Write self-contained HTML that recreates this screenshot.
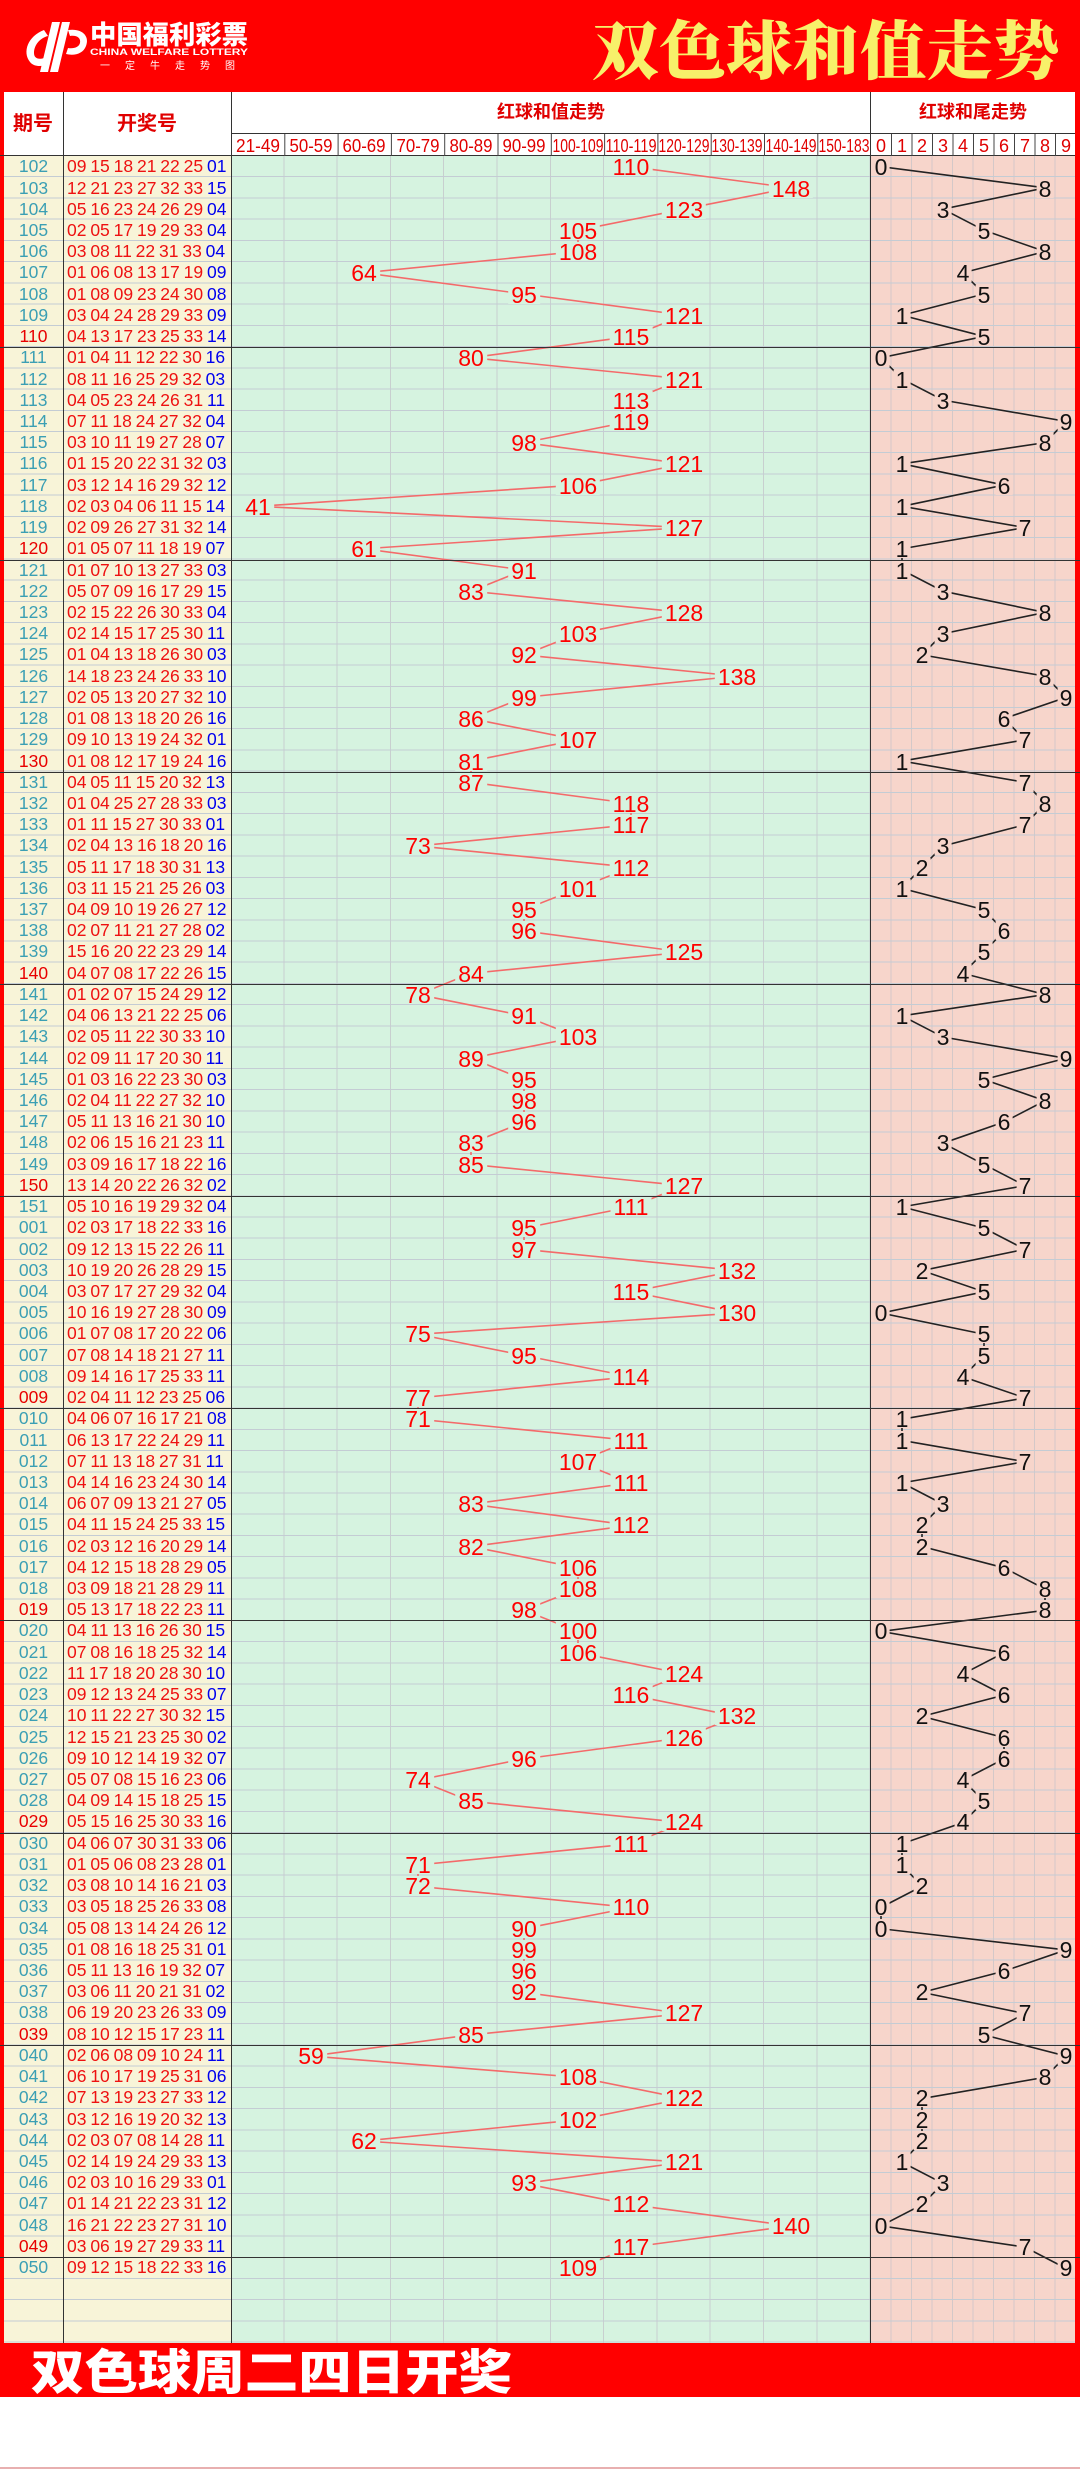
<!DOCTYPE html>
<html><head><meta charset="utf-8">
<style>
*{margin:0;padding:0;box-sizing:border-box}
body{width:1080px;height:2470px;background:#fff;position:relative;overflow:hidden;font-family:"Liberation Sans","Noto Sans CJK SC",sans-serif}
#hdr{position:absolute;left:0;top:0}
#body{position:absolute;left:0;top:156.4px;width:1080px;height:2186.7px}
.col{position:absolute;top:0;bottom:0}
#hl{position:absolute;left:4px;right:5px;top:0;bottom:0;background-image:repeating-linear-gradient(to bottom,transparent 0 20.23px,#c4ccd4 20.23px 21.23px)}
.vl{position:absolute;top:0;bottom:0;width:1px;background:#333}
#lines{position:absolute;left:0;top:0}
#rows{position:absolute;left:0;top:0;width:1080px}
.r{position:relative;height:21.23px;line-height:21.23px;white-space:nowrap}
.g{box-shadow:inset 0 1px 0 #333}
.a{position:absolute;left:4px;width:59px;text-align:center;font-size:17.5px;color:#3b9fb4}
.k .a{color:#e80000}
.n{position:absolute;left:67px;font-size:17.5px;color:#ee1111;word-spacing:-1px}
.b{color:#0000ee}
.s{position:absolute;transform:translateX(-50%);top:1px;height:19px;line-height:20px;background:#d6f3e0;padding:0 3px;font-size:23px;color:#f00}
.t{position:absolute;transform:translateX(-50%);top:1px;height:19px;line-height:20px;background:#f7d5cb;padding:0 2px;font-size:23px;color:#111}
</style></head><body>
<svg id="hdr" width="1080" height="157" viewBox="0 0 1080 157">
<rect x="0" y="0" width="1080" height="92" fill="#ff0000"/>
<rect x="0" y="92" width="1080" height="65" fill="#ffffff"/>
<rect x="0" y="92" width="4" height="65" fill="#ff0000"/>
<rect x="1075" y="92" width="5" height="65" fill="#ff0000"/>
<g fill="#fff">
<path d="M44 30 C28 36 22 52 30 62 C34 67 42 67 48 64 L44 58 C38 60 34 58 34 53 C34 45 40 38 48 36 Z"/>
<path d="M52 22 L60 22 L48 72 L40 72 Z"/>
<path d="M62 22 L70 22 L58 72 L50 72 Z"/>
<path d="M68 30 C82 28 90 36 86 46 C83 54 74 56 66 54 L68 48 C74 49 79 47 80 43 C81 38 77 35 70 36 Z"/>
</g>
<text x="90" y="44" font-family="Noto Sans CJK SC,sans-serif" font-weight="900" font-size="26" fill="#fff" textLength="158" lengthAdjust="spacingAndGlyphs">中国福利彩票</text>
<text x="90" y="55" font-family="Liberation Sans,sans-serif" font-weight="bold" font-size="9.5" fill="#fff" textLength="158" lengthAdjust="spacingAndGlyphs">CHINA WELFARE LOTTERY</text>
<text x="100" y="69" font-family="Noto Sans CJK SC,sans-serif" font-size="10" fill="#fff" textLength="135" lengthAdjust="spacing">一定牛走势图</text>
<text x="592" y="74" font-family="Noto Serif CJK SC,serif" font-weight="900" font-size="64" fill="#f7f06a" textLength="468" lengthAdjust="spacingAndGlyphs">双色球和值走势</text>
<g stroke="#333" stroke-width="1">
<line x1="63.5" y1="92" x2="63.5" y2="157"/>
<line x1="231.5" y1="92" x2="231.5" y2="157"/>
<line x1="870.5" y1="92" x2="870.5" y2="157"/>
<line x1="231" y1="133.5" x2="1075" y2="133.5"/>
<line x1="0" y1="155.5" x2="1075" y2="155.5"/>
</g>
<g stroke="#444" stroke-width="1">
<line x1="284.8" y1="134" x2="284.8" y2="156"/><line x1="338.1" y1="134" x2="338.1" y2="156"/>
<line x1="391.4" y1="134" x2="391.4" y2="156"/><line x1="444.7" y1="134" x2="444.7" y2="156"/>
<line x1="498" y1="134" x2="498" y2="156"/><line x1="551.3" y1="134" x2="551.3" y2="156"/>
<line x1="604.6" y1="134" x2="604.6" y2="156"/><line x1="657.9" y1="134" x2="657.9" y2="156"/>
<line x1="711.2" y1="134" x2="711.2" y2="156"/><line x1="764.5" y1="134" x2="764.5" y2="156"/>
<line x1="817.8" y1="134" x2="817.8" y2="156"/>
<line x1="891.5" y1="134" x2="891.5" y2="156"/><line x1="912" y1="134" x2="912" y2="156"/>
<line x1="932.5" y1="134" x2="932.5" y2="156"/><line x1="953" y1="134" x2="953" y2="156"/>
<line x1="973.5" y1="134" x2="973.5" y2="156"/><line x1="994" y1="134" x2="994" y2="156"/>
<line x1="1014.5" y1="134" x2="1014.5" y2="156"/><line x1="1035" y1="134" x2="1035" y2="156"/>
<line x1="1055.5" y1="134" x2="1055.5" y2="156"/>
</g>
<g font-family="Noto Sans CJK SC,sans-serif" font-weight="bold" fill="#e00000" text-anchor="middle">
<text x="33" y="130" font-size="20">期号</text>
<text x="147" y="130" font-size="20">开奖号</text>
<text x="551" y="118" font-size="18">红球和值走势</text>
<text x="973" y="118" font-size="18">红球和尾走势</text>
</g>
<g font-family="Liberation Sans,sans-serif" font-size="18" fill="#e00000" text-anchor="middle">
<text x="258" y="152" textLength="44" lengthAdjust="spacingAndGlyphs">21-49</text>
<text x="311" y="152" textLength="43" lengthAdjust="spacingAndGlyphs">50-59</text>
<text x="364" y="152" textLength="43" lengthAdjust="spacingAndGlyphs">60-69</text>
<text x="418" y="152" textLength="43" lengthAdjust="spacingAndGlyphs">70-79</text>
<text x="471" y="152" textLength="43" lengthAdjust="spacingAndGlyphs">80-89</text>
<text x="524" y="152" textLength="43" lengthAdjust="spacingAndGlyphs">90-99</text>
<text x="578" y="152" textLength="51" lengthAdjust="spacingAndGlyphs">100-109</text>
<text x="631" y="152" textLength="51" lengthAdjust="spacingAndGlyphs">110-119</text>
<text x="684" y="152" textLength="51" lengthAdjust="spacingAndGlyphs">120-129</text>
<text x="737" y="152" textLength="51" lengthAdjust="spacingAndGlyphs">130-139</text>
<text x="791" y="152" textLength="51" lengthAdjust="spacingAndGlyphs">140-149</text>
<text x="844" y="152" textLength="51" lengthAdjust="spacingAndGlyphs">150-183</text>
<text x="881" y="152">0</text><text x="902" y="152">1</text><text x="922" y="152">2</text><text x="943" y="152">3</text><text x="963" y="152">4</text><text x="984" y="152">5</text><text x="1004" y="152">6</text><text x="1025" y="152">7</text><text x="1045" y="152">8</text><text x="1066" y="152">9</text>
</g>
</svg>

<div id="body">
<div class="col" style="left:0;width:4px;background:#ff0000"></div>
<div class="col" style="left:4px;width:227px;background:#f8f4d8"></div>
<div class="col" style="left:231px;width:640px;background-color:#d6f3e0;background-image:repeating-linear-gradient(to right,transparent 0 52.3px,#c8cfcf 52.3px 53.3px)"></div>
<div class="col" style="left:871px;width:204px;background-color:#f7d5cb;background-image:repeating-linear-gradient(to right,transparent 0 19.5px,#d4c8c8 19.5px 20.5px)"></div>
<div class="col" style="left:1075px;width:5px;background:#ff0000"></div>
<div id="hl"></div>
<div class="vl" style="left:63px"></div>
<div class="vl" style="left:231px"></div>
<div class="vl" style="left:870px"></div>
<svg id="lines" width="1080" height="2123" viewBox="0 0 1080 100" preserveAspectRatio="none">
<polyline fill="none" stroke="#f46a6a" stroke-width="1.6" vector-effect="non-scaling-stroke" points="631,0.5 791,1.5 684,2.5 578,3.5 578,4.5 364,5.5 524,6.5 684,7.5 631,8.5 471,9.5 684,10.5 631,11.5 631,12.5 524,13.5 684,14.5 578,15.5 258,16.5 684,17.5 364,18.5 524,19.5 471,20.5 684,21.5 578,22.5 524,23.5 737,24.5 524,25.5 471,26.5 578,27.5 471,28.5 471,29.5 631,30.5 631,31.5 418,32.5 631,33.5 578,34.5 524,35.5 524,36.5 684,37.5 471,38.5 418,39.5 524,40.5 578,41.5 471,42.5 524,43.5 524,44.5 524,45.5 471,46.5 471,47.5 684,48.5 631,49.5 524,50.5 524,51.5 737,52.5 631,53.5 737,54.5 418,55.5 524,56.5 631,57.5 418,58.5 418,59.5 631,60.5 578,61.5 631,62.5 471,63.5 631,64.5 471,65.5 578,66.5 578,67.5 524,68.5 578,69.5 578,70.5 684,71.5 631,72.5 737,73.5 684,74.5 524,75.5 418,76.5 471,77.5 684,78.5 631,79.5 418,80.5 418,81.5 631,82.5 524,83.5 524,84.5 524,85.5 524,86.5 684,87.5 471,88.5 311,89.5 578,90.5 684,91.5 578,92.5 364,93.5 684,94.5 524,95.5 631,96.5 791,97.5 631,98.5 578,99.5"/>
<polyline fill="none" stroke="#222" stroke-width="1.6" vector-effect="non-scaling-stroke" points="881,0.5 1045,1.5 943,2.5 984,3.5 1045,4.5 963,5.5 984,6.5 902,7.5 984,8.5 881,9.5 902,10.5 943,11.5 1066,12.5 1045,13.5 902,14.5 1004,15.5 902,16.5 1025,17.5 902,18.5 902,19.5 943,20.5 1045,21.5 943,22.5 922,23.5 1045,24.5 1066,25.5 1004,26.5 1025,27.5 902,28.5 1025,29.5 1045,30.5 1025,31.5 943,32.5 922,33.5 902,34.5 984,35.5 1004,36.5 984,37.5 963,38.5 1045,39.5 902,40.5 943,41.5 1066,42.5 984,43.5 1045,44.5 1004,45.5 943,46.5 984,47.5 1025,48.5 902,49.5 984,50.5 1025,51.5 922,52.5 984,53.5 881,54.5 984,55.5 984,56.5 963,57.5 1025,58.5 902,59.5 902,60.5 1025,61.5 902,62.5 943,63.5 922,64.5 922,65.5 1004,66.5 1045,67.5 1045,68.5 881,69.5 1004,70.5 963,71.5 1004,72.5 922,73.5 1004,74.5 1004,75.5 963,76.5 984,77.5 963,78.5 902,79.5 902,80.5 922,81.5 881,82.5 881,83.5 1066,84.5 1004,85.5 922,86.5 1025,87.5 984,88.5 1066,89.5 1045,90.5 922,91.5 922,92.5 922,93.5 902,94.5 943,95.5 922,96.5 881,97.5 1025,98.5 1066,99.5"/>
</svg>
<div id="rows">
<div class="r"><span class="a">102</span><span class="n">09 15 18 21 22 25 <span class="b">01</span></span><span class="s" style="left:631px">110</span><span class="t" style="left:881px">0</span></div>
<div class="r"><span class="a">103</span><span class="n">12 21 23 27 32 33 <span class="b">15</span></span><span class="s" style="left:791px">148</span><span class="t" style="left:1045px">8</span></div>
<div class="r"><span class="a">104</span><span class="n">05 16 23 24 26 29 <span class="b">04</span></span><span class="s" style="left:684px">123</span><span class="t" style="left:943px">3</span></div>
<div class="r"><span class="a">105</span><span class="n">02 05 17 19 29 33 <span class="b">04</span></span><span class="s" style="left:578px">105</span><span class="t" style="left:984px">5</span></div>
<div class="r"><span class="a">106</span><span class="n">03 08 11 22 31 33 <span class="b">04</span></span><span class="s" style="left:578px">108</span><span class="t" style="left:1045px">8</span></div>
<div class="r"><span class="a">107</span><span class="n">01 06 08 13 17 19 <span class="b">09</span></span><span class="s" style="left:364px">64</span><span class="t" style="left:963px">4</span></div>
<div class="r"><span class="a">108</span><span class="n">01 08 09 23 24 30 <span class="b">08</span></span><span class="s" style="left:524px">95</span><span class="t" style="left:984px">5</span></div>
<div class="r"><span class="a">109</span><span class="n">03 04 24 28 29 33 <span class="b">09</span></span><span class="s" style="left:684px">121</span><span class="t" style="left:902px">1</span></div>
<div class="r k"><span class="a">110</span><span class="n">04 13 17 23 25 33 <span class="b">14</span></span><span class="s" style="left:631px">115</span><span class="t" style="left:984px">5</span></div>
<div class="r g"><span class="a">111</span><span class="n">01 04 11 12 22 30 <span class="b">16</span></span><span class="s" style="left:471px">80</span><span class="t" style="left:881px">0</span></div>
<div class="r"><span class="a">112</span><span class="n">08 11 16 25 29 32 <span class="b">03</span></span><span class="s" style="left:684px">121</span><span class="t" style="left:902px">1</span></div>
<div class="r"><span class="a">113</span><span class="n">04 05 23 24 26 31 <span class="b">11</span></span><span class="s" style="left:631px">113</span><span class="t" style="left:943px">3</span></div>
<div class="r"><span class="a">114</span><span class="n">07 11 18 24 27 32 <span class="b">04</span></span><span class="s" style="left:631px">119</span><span class="t" style="left:1066px">9</span></div>
<div class="r"><span class="a">115</span><span class="n">03 10 11 19 27 28 <span class="b">07</span></span><span class="s" style="left:524px">98</span><span class="t" style="left:1045px">8</span></div>
<div class="r"><span class="a">116</span><span class="n">01 15 20 22 31 32 <span class="b">03</span></span><span class="s" style="left:684px">121</span><span class="t" style="left:902px">1</span></div>
<div class="r"><span class="a">117</span><span class="n">03 12 14 16 29 32 <span class="b">12</span></span><span class="s" style="left:578px">106</span><span class="t" style="left:1004px">6</span></div>
<div class="r"><span class="a">118</span><span class="n">02 03 04 06 11 15 <span class="b">14</span></span><span class="s" style="left:258px">41</span><span class="t" style="left:902px">1</span></div>
<div class="r"><span class="a">119</span><span class="n">02 09 26 27 31 32 <span class="b">14</span></span><span class="s" style="left:684px">127</span><span class="t" style="left:1025px">7</span></div>
<div class="r k"><span class="a">120</span><span class="n">01 05 07 11 18 19 <span class="b">07</span></span><span class="s" style="left:364px">61</span><span class="t" style="left:902px">1</span></div>
<div class="r g"><span class="a">121</span><span class="n">01 07 10 13 27 33 <span class="b">03</span></span><span class="s" style="left:524px">91</span><span class="t" style="left:902px">1</span></div>
<div class="r"><span class="a">122</span><span class="n">05 07 09 16 17 29 <span class="b">15</span></span><span class="s" style="left:471px">83</span><span class="t" style="left:943px">3</span></div>
<div class="r"><span class="a">123</span><span class="n">02 15 22 26 30 33 <span class="b">04</span></span><span class="s" style="left:684px">128</span><span class="t" style="left:1045px">8</span></div>
<div class="r"><span class="a">124</span><span class="n">02 14 15 17 25 30 <span class="b">11</span></span><span class="s" style="left:578px">103</span><span class="t" style="left:943px">3</span></div>
<div class="r"><span class="a">125</span><span class="n">01 04 13 18 26 30 <span class="b">03</span></span><span class="s" style="left:524px">92</span><span class="t" style="left:922px">2</span></div>
<div class="r"><span class="a">126</span><span class="n">14 18 23 24 26 33 <span class="b">10</span></span><span class="s" style="left:737px">138</span><span class="t" style="left:1045px">8</span></div>
<div class="r"><span class="a">127</span><span class="n">02 05 13 20 27 32 <span class="b">10</span></span><span class="s" style="left:524px">99</span><span class="t" style="left:1066px">9</span></div>
<div class="r"><span class="a">128</span><span class="n">01 08 13 18 20 26 <span class="b">16</span></span><span class="s" style="left:471px">86</span><span class="t" style="left:1004px">6</span></div>
<div class="r"><span class="a">129</span><span class="n">09 10 13 19 24 32 <span class="b">01</span></span><span class="s" style="left:578px">107</span><span class="t" style="left:1025px">7</span></div>
<div class="r k"><span class="a">130</span><span class="n">01 08 12 17 19 24 <span class="b">16</span></span><span class="s" style="left:471px">81</span><span class="t" style="left:902px">1</span></div>
<div class="r g"><span class="a">131</span><span class="n">04 05 11 15 20 32 <span class="b">13</span></span><span class="s" style="left:471px">87</span><span class="t" style="left:1025px">7</span></div>
<div class="r"><span class="a">132</span><span class="n">01 04 25 27 28 33 <span class="b">03</span></span><span class="s" style="left:631px">118</span><span class="t" style="left:1045px">8</span></div>
<div class="r"><span class="a">133</span><span class="n">01 11 15 27 30 33 <span class="b">01</span></span><span class="s" style="left:631px">117</span><span class="t" style="left:1025px">7</span></div>
<div class="r"><span class="a">134</span><span class="n">02 04 13 16 18 20 <span class="b">16</span></span><span class="s" style="left:418px">73</span><span class="t" style="left:943px">3</span></div>
<div class="r"><span class="a">135</span><span class="n">05 11 17 18 30 31 <span class="b">13</span></span><span class="s" style="left:631px">112</span><span class="t" style="left:922px">2</span></div>
<div class="r"><span class="a">136</span><span class="n">03 11 15 21 25 26 <span class="b">03</span></span><span class="s" style="left:578px">101</span><span class="t" style="left:902px">1</span></div>
<div class="r"><span class="a">137</span><span class="n">04 09 10 19 26 27 <span class="b">12</span></span><span class="s" style="left:524px">95</span><span class="t" style="left:984px">5</span></div>
<div class="r"><span class="a">138</span><span class="n">02 07 11 21 27 28 <span class="b">02</span></span><span class="s" style="left:524px">96</span><span class="t" style="left:1004px">6</span></div>
<div class="r"><span class="a">139</span><span class="n">15 16 20 22 23 29 <span class="b">14</span></span><span class="s" style="left:684px">125</span><span class="t" style="left:984px">5</span></div>
<div class="r k"><span class="a">140</span><span class="n">04 07 08 17 22 26 <span class="b">15</span></span><span class="s" style="left:471px">84</span><span class="t" style="left:963px">4</span></div>
<div class="r g"><span class="a">141</span><span class="n">01 02 07 15 24 29 <span class="b">12</span></span><span class="s" style="left:418px">78</span><span class="t" style="left:1045px">8</span></div>
<div class="r"><span class="a">142</span><span class="n">04 06 13 21 22 25 <span class="b">06</span></span><span class="s" style="left:524px">91</span><span class="t" style="left:902px">1</span></div>
<div class="r"><span class="a">143</span><span class="n">02 05 11 22 30 33 <span class="b">10</span></span><span class="s" style="left:578px">103</span><span class="t" style="left:943px">3</span></div>
<div class="r"><span class="a">144</span><span class="n">02 09 11 17 20 30 <span class="b">11</span></span><span class="s" style="left:471px">89</span><span class="t" style="left:1066px">9</span></div>
<div class="r"><span class="a">145</span><span class="n">01 03 16 22 23 30 <span class="b">03</span></span><span class="s" style="left:524px">95</span><span class="t" style="left:984px">5</span></div>
<div class="r"><span class="a">146</span><span class="n">02 04 11 22 27 32 <span class="b">10</span></span><span class="s" style="left:524px">98</span><span class="t" style="left:1045px">8</span></div>
<div class="r"><span class="a">147</span><span class="n">05 11 13 16 21 30 <span class="b">10</span></span><span class="s" style="left:524px">96</span><span class="t" style="left:1004px">6</span></div>
<div class="r"><span class="a">148</span><span class="n">02 06 15 16 21 23 <span class="b">11</span></span><span class="s" style="left:471px">83</span><span class="t" style="left:943px">3</span></div>
<div class="r"><span class="a">149</span><span class="n">03 09 16 17 18 22 <span class="b">16</span></span><span class="s" style="left:471px">85</span><span class="t" style="left:984px">5</span></div>
<div class="r k"><span class="a">150</span><span class="n">13 14 20 22 26 32 <span class="b">02</span></span><span class="s" style="left:684px">127</span><span class="t" style="left:1025px">7</span></div>
<div class="r g"><span class="a">151</span><span class="n">05 10 16 19 29 32 <span class="b">04</span></span><span class="s" style="left:631px">111</span><span class="t" style="left:902px">1</span></div>
<div class="r"><span class="a">001</span><span class="n">02 03 17 18 22 33 <span class="b">16</span></span><span class="s" style="left:524px">95</span><span class="t" style="left:984px">5</span></div>
<div class="r"><span class="a">002</span><span class="n">09 12 13 15 22 26 <span class="b">11</span></span><span class="s" style="left:524px">97</span><span class="t" style="left:1025px">7</span></div>
<div class="r"><span class="a">003</span><span class="n">10 19 20 26 28 29 <span class="b">15</span></span><span class="s" style="left:737px">132</span><span class="t" style="left:922px">2</span></div>
<div class="r"><span class="a">004</span><span class="n">03 07 17 27 29 32 <span class="b">04</span></span><span class="s" style="left:631px">115</span><span class="t" style="left:984px">5</span></div>
<div class="r"><span class="a">005</span><span class="n">10 16 19 27 28 30 <span class="b">09</span></span><span class="s" style="left:737px">130</span><span class="t" style="left:881px">0</span></div>
<div class="r"><span class="a">006</span><span class="n">01 07 08 17 20 22 <span class="b">06</span></span><span class="s" style="left:418px">75</span><span class="t" style="left:984px">5</span></div>
<div class="r"><span class="a">007</span><span class="n">07 08 14 18 21 27 <span class="b">11</span></span><span class="s" style="left:524px">95</span><span class="t" style="left:984px">5</span></div>
<div class="r"><span class="a">008</span><span class="n">09 14 16 17 25 33 <span class="b">11</span></span><span class="s" style="left:631px">114</span><span class="t" style="left:963px">4</span></div>
<div class="r k"><span class="a">009</span><span class="n">02 04 11 12 23 25 <span class="b">06</span></span><span class="s" style="left:418px">77</span><span class="t" style="left:1025px">7</span></div>
<div class="r g"><span class="a">010</span><span class="n">04 06 07 16 17 21 <span class="b">08</span></span><span class="s" style="left:418px">71</span><span class="t" style="left:902px">1</span></div>
<div class="r"><span class="a">011</span><span class="n">06 13 17 22 24 29 <span class="b">11</span></span><span class="s" style="left:631px">111</span><span class="t" style="left:902px">1</span></div>
<div class="r"><span class="a">012</span><span class="n">07 11 13 18 27 31 <span class="b">11</span></span><span class="s" style="left:578px">107</span><span class="t" style="left:1025px">7</span></div>
<div class="r"><span class="a">013</span><span class="n">04 14 16 23 24 30 <span class="b">14</span></span><span class="s" style="left:631px">111</span><span class="t" style="left:902px">1</span></div>
<div class="r"><span class="a">014</span><span class="n">06 07 09 13 21 27 <span class="b">05</span></span><span class="s" style="left:471px">83</span><span class="t" style="left:943px">3</span></div>
<div class="r"><span class="a">015</span><span class="n">04 11 15 24 25 33 <span class="b">15</span></span><span class="s" style="left:631px">112</span><span class="t" style="left:922px">2</span></div>
<div class="r"><span class="a">016</span><span class="n">02 03 12 16 20 29 <span class="b">14</span></span><span class="s" style="left:471px">82</span><span class="t" style="left:922px">2</span></div>
<div class="r"><span class="a">017</span><span class="n">04 12 15 18 28 29 <span class="b">05</span></span><span class="s" style="left:578px">106</span><span class="t" style="left:1004px">6</span></div>
<div class="r"><span class="a">018</span><span class="n">03 09 18 21 28 29 <span class="b">11</span></span><span class="s" style="left:578px">108</span><span class="t" style="left:1045px">8</span></div>
<div class="r k"><span class="a">019</span><span class="n">05 13 17 18 22 23 <span class="b">11</span></span><span class="s" style="left:524px">98</span><span class="t" style="left:1045px">8</span></div>
<div class="r g"><span class="a">020</span><span class="n">04 11 13 16 26 30 <span class="b">15</span></span><span class="s" style="left:578px">100</span><span class="t" style="left:881px">0</span></div>
<div class="r"><span class="a">021</span><span class="n">07 08 16 18 25 32 <span class="b">14</span></span><span class="s" style="left:578px">106</span><span class="t" style="left:1004px">6</span></div>
<div class="r"><span class="a">022</span><span class="n">11 17 18 20 28 30 <span class="b">10</span></span><span class="s" style="left:684px">124</span><span class="t" style="left:963px">4</span></div>
<div class="r"><span class="a">023</span><span class="n">09 12 13 24 25 33 <span class="b">07</span></span><span class="s" style="left:631px">116</span><span class="t" style="left:1004px">6</span></div>
<div class="r"><span class="a">024</span><span class="n">10 11 22 27 30 32 <span class="b">15</span></span><span class="s" style="left:737px">132</span><span class="t" style="left:922px">2</span></div>
<div class="r"><span class="a">025</span><span class="n">12 15 21 23 25 30 <span class="b">02</span></span><span class="s" style="left:684px">126</span><span class="t" style="left:1004px">6</span></div>
<div class="r"><span class="a">026</span><span class="n">09 10 12 14 19 32 <span class="b">07</span></span><span class="s" style="left:524px">96</span><span class="t" style="left:1004px">6</span></div>
<div class="r"><span class="a">027</span><span class="n">05 07 08 15 16 23 <span class="b">06</span></span><span class="s" style="left:418px">74</span><span class="t" style="left:963px">4</span></div>
<div class="r"><span class="a">028</span><span class="n">04 09 14 15 18 25 <span class="b">15</span></span><span class="s" style="left:471px">85</span><span class="t" style="left:984px">5</span></div>
<div class="r k"><span class="a">029</span><span class="n">05 15 16 25 30 33 <span class="b">16</span></span><span class="s" style="left:684px">124</span><span class="t" style="left:963px">4</span></div>
<div class="r g"><span class="a">030</span><span class="n">04 06 07 30 31 33 <span class="b">06</span></span><span class="s" style="left:631px">111</span><span class="t" style="left:902px">1</span></div>
<div class="r"><span class="a">031</span><span class="n">01 05 06 08 23 28 <span class="b">01</span></span><span class="s" style="left:418px">71</span><span class="t" style="left:902px">1</span></div>
<div class="r"><span class="a">032</span><span class="n">03 08 10 14 16 21 <span class="b">03</span></span><span class="s" style="left:418px">72</span><span class="t" style="left:922px">2</span></div>
<div class="r"><span class="a">033</span><span class="n">03 05 18 25 26 33 <span class="b">08</span></span><span class="s" style="left:631px">110</span><span class="t" style="left:881px">0</span></div>
<div class="r"><span class="a">034</span><span class="n">05 08 13 14 24 26 <span class="b">12</span></span><span class="s" style="left:524px">90</span><span class="t" style="left:881px">0</span></div>
<div class="r"><span class="a">035</span><span class="n">01 08 16 18 25 31 <span class="b">01</span></span><span class="s" style="left:524px">99</span><span class="t" style="left:1066px">9</span></div>
<div class="r"><span class="a">036</span><span class="n">05 11 13 16 19 32 <span class="b">07</span></span><span class="s" style="left:524px">96</span><span class="t" style="left:1004px">6</span></div>
<div class="r"><span class="a">037</span><span class="n">03 06 11 20 21 31 <span class="b">02</span></span><span class="s" style="left:524px">92</span><span class="t" style="left:922px">2</span></div>
<div class="r"><span class="a">038</span><span class="n">06 19 20 23 26 33 <span class="b">09</span></span><span class="s" style="left:684px">127</span><span class="t" style="left:1025px">7</span></div>
<div class="r k"><span class="a">039</span><span class="n">08 10 12 15 17 23 <span class="b">11</span></span><span class="s" style="left:471px">85</span><span class="t" style="left:984px">5</span></div>
<div class="r g"><span class="a">040</span><span class="n">02 06 08 09 10 24 <span class="b">11</span></span><span class="s" style="left:311px">59</span><span class="t" style="left:1066px">9</span></div>
<div class="r"><span class="a">041</span><span class="n">06 10 17 19 25 31 <span class="b">06</span></span><span class="s" style="left:578px">108</span><span class="t" style="left:1045px">8</span></div>
<div class="r"><span class="a">042</span><span class="n">07 13 19 23 27 33 <span class="b">12</span></span><span class="s" style="left:684px">122</span><span class="t" style="left:922px">2</span></div>
<div class="r"><span class="a">043</span><span class="n">03 12 16 19 20 32 <span class="b">13</span></span><span class="s" style="left:578px">102</span><span class="t" style="left:922px">2</span></div>
<div class="r"><span class="a">044</span><span class="n">02 03 07 08 14 28 <span class="b">11</span></span><span class="s" style="left:364px">62</span><span class="t" style="left:922px">2</span></div>
<div class="r"><span class="a">045</span><span class="n">02 14 19 24 29 33 <span class="b">13</span></span><span class="s" style="left:684px">121</span><span class="t" style="left:902px">1</span></div>
<div class="r"><span class="a">046</span><span class="n">02 03 10 16 29 33 <span class="b">01</span></span><span class="s" style="left:524px">93</span><span class="t" style="left:943px">3</span></div>
<div class="r"><span class="a">047</span><span class="n">01 14 21 22 23 31 <span class="b">12</span></span><span class="s" style="left:631px">112</span><span class="t" style="left:922px">2</span></div>
<div class="r"><span class="a">048</span><span class="n">16 21 22 23 27 31 <span class="b">10</span></span><span class="s" style="left:791px">140</span><span class="t" style="left:881px">0</span></div>
<div class="r k"><span class="a">049</span><span class="n">03 06 19 27 29 33 <span class="b">11</span></span><span class="s" style="left:631px">117</span><span class="t" style="left:1025px">7</span></div>
<div class="r g"><span class="a">050</span><span class="n">09 12 15 18 22 33 <span class="b">16</span></span><span class="s" style="left:578px">109</span><span class="t" style="left:1066px">9</span></div>
</div>
</div>

<svg style="position:absolute;left:0;top:2343px" width="1080" height="127" viewBox="0 0 1080 127">
<rect x="0" y="0" width="1080" height="54" fill="#ff0000"/>
<text x="31" y="46" font-family="Noto Sans CJK SC,sans-serif" font-weight="900" font-size="48" fill="#ffffff" textLength="481" lengthAdjust="spacingAndGlyphs">双色球周二四日开奖</text>
<rect x="0" y="124" width="1080" height="2" fill="#e8b0b0"/>
</svg>
</body></html>
